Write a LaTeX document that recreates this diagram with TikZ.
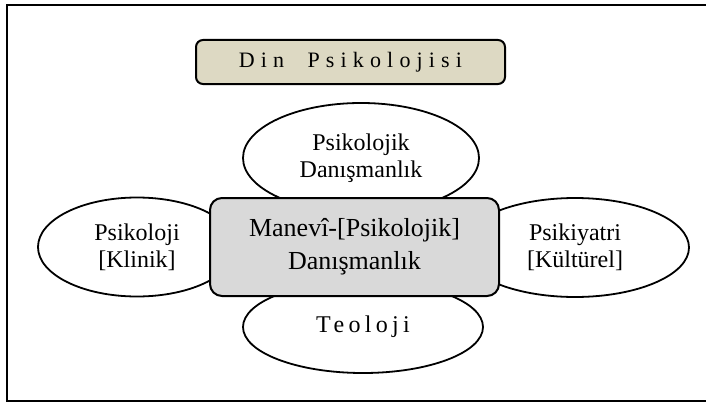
\documentclass[tikz,border=0pt]{standalone}
\usepackage{fontspec}
\setmainfont{Liberation Serif}
\newfontfamily\titlefont[LetterSpace=28]{Liberation Serif}
\newfontfamily\teolojifont[LetterSpace=18]{Liberation Serif}
\usetikzlibrary{shapes.geometric}
\definecolor{titlebeige}{HTML}{DDD9C3}
\definecolor{coregray}{HTML}{D9D9D9}

\begin{document}
\begin{tikzpicture}[
  x=1pt, y=-1pt,
  fieldnode/.style={ellipse, draw, line width=1.8pt, fill=white, inner sep=0pt, align=center, font=\fontsize{24}{27}\selectfont},
  corenode/.style={rectangle, rounded corners=12pt, draw, line width=2pt, fill=coregray, align=center, minimum width=289pt, minimum height=98pt, font=\fontsize{26}{33}\selectfont},
  titlenode/.style={rectangle, rounded corners=7pt, draw, line width=2pt, fill=titlebeige, minimum width=309pt, minimum height=44pt}
]
\useasboundingbox (0,0) rectangle (706,404);

% Frame
\draw[line width=2.5pt] (7,5) rectangle (720,401);

% Title
\node[titlenode] (title) at (350.5,62) {\titlefont\fontsize{22}{24}\selectfont Din\ \ Psikolojisi};

% Fields around the core
\node[fieldnode, minimum width=236pt, minimum height=110pt] (top) at (361,158) {Psikolojik\\Danışmanlık};
\node[fieldnode, minimum width=240pt, minimum height=92pt] (bottom) at (363,327) {\teolojifont\fontsize{24}{26}\selectfont Teoloji};
\node[fieldnode, minimum width=198pt, minimum height=99pt] (left) at (137,247) {Psikoloji\\{[Klinik]}};
\node[fieldnode, minimum width=228pt, minimum height=99pt] (right) at (575,247.5) {Psikiyatri\\{[Kültürel]}};

% Core
\node[corenode] (core) at (354.5,247) {Manevî-[Psikolojik]\\Danışmanlık};

\end{tikzpicture}
\end{document}
